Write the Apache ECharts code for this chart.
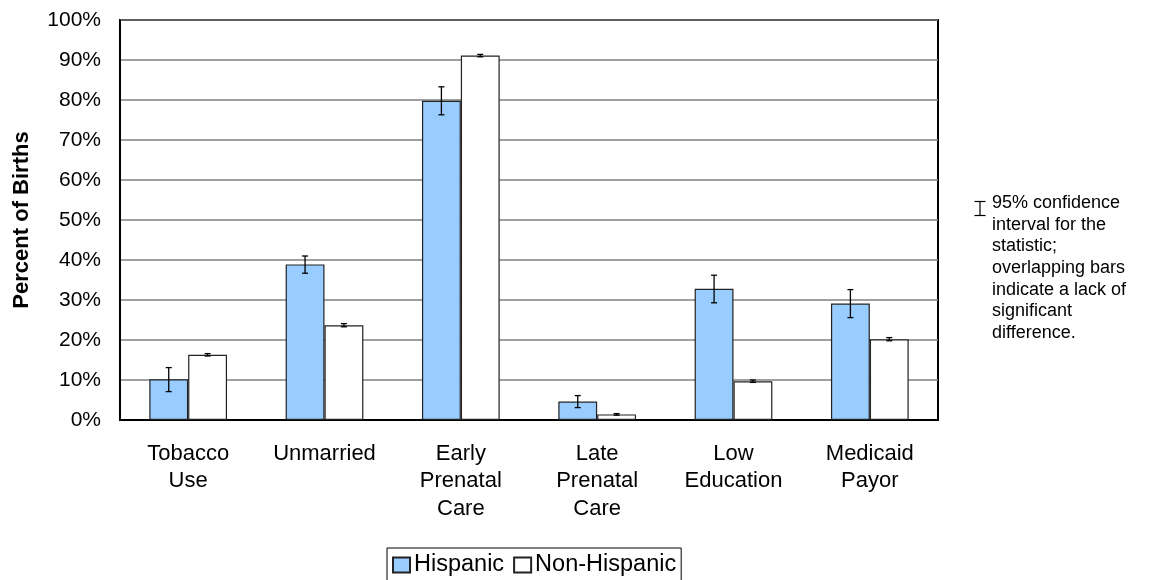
<!DOCTYPE html>
<html>
<head>
<meta charset="utf-8">
<script src="https://cdn.jsdelivr.net/npm/echarts@6/dist/echarts.min.js"></script>
<style>
  html, body { margin: 0; padding: 0; background: #fff; }
  #main { width: 1151px; height: 580px; }
</style>
</head>
<body>
<div id="main"></div>
<script>
var categories = ['Tobacco\nUse', 'Unmarried', 'Early\nPrenatal\nCare', 'Late\nPrenatal\nCare', 'Low\nEducation', 'Medicaid\nPayor'];
var hispanic = [10.2, 38.9, 79.8, 4.6, 32.8, 29.1];
var hispanicLow = [7.1, 36.7, 76.3, 3.1, 29.3, 25.6];
var hispanicHigh = [13.1, 41.0, 83.3, 6.1, 36.2, 32.6];
var nonHispanic = [16.3, 23.7, 91.1, 1.4, 9.7, 20.2];
var nonHispanicLow = [16.0, 23.3, 90.8, 1.2, 9.4, 19.8];
var nonHispanicHigh = [16.6, 24.1, 91.4, 1.6, 10.0, 20.6];

var gapRatio = 0.43;

function errorData(low, high) {
	var res = [];
	for (var i = 0; i < low.length; i++) {
		res.push([i, low[i], high[i]]);
	}
	return res;
}

// whisker drawn on the centre of the left (-1) or right (+1) bar
function errorRender(side) {
	return function(params, api) {
		var idx = api.value(0);
		var lo = api.coord([idx, api.value(1)]);
		var hi = api.coord([idx, api.value(2)]);
		var band = api.size([1, 0])[0];
		var bw = band * (1 - gapRatio) / 2;
		var x = lo[0] + side * bw / 2;
		var cap = 3;
		var style = { stroke: '#000', lineWidth: 1.3 };
		return {
			type: 'group',
			children: [
				{ type: 'line', shape: { x1: x, y1: hi[1], x2: x, y2: lo[1] }, style: style },
				{ type: 'line', shape: { x1: x - cap, y1: hi[1], x2: x + cap, y2: hi[1] }, style: style },
				{ type: 'line', shape: { x1: x - cap, y1: lo[1], x2: x + cap, y2: lo[1] }, style: style }
			]
		};
	};
}

var chart = echarts.init(document.getElementById('main'));

var noteLines = ['95% confidence', 'interval for the', 'statistic;', 'overlapping bars', 'indicate a lack of', 'significant', 'difference.'];
var fontName = 'Liberation Sans, Arial, sans-serif';

var option = {
	animation: false,
	textStyle: { fontFamily: fontName },
	grid: {
		left: 120, right: 213, top: 20, bottom: 160,
		show: true, borderColor: '#000', borderWidth: 2
	},
	legend: {
		top: 548,
		left: 387,
		data: ['Hispanic', 'Non-Hispanic'],
		icon: 'rect',
		itemWidth: 17, itemHeight: 15,
		itemGap: 9,
		padding: [5, 5, 10, 5],
		borderColor: '#000', borderWidth: 1,
		textStyle: { fontSize: 23.5, color: '#000', padding: [0, 0, 0, -1] }
	},
	xAxis: {
		type: 'category',
		data: categories,
		axisTick: { show: false },
		axisLine: { lineStyle: { color: '#000', width: 2 } },
		axisLabel: { fontSize: 22, color: '#000', lineHeight: 27.5, margin: 20 }
	},
	yAxis: {
		type: 'value',
		min: 0, max: 100, interval: 10,
		name: 'Percent of Births',
		nameLocation: 'middle',
		nameGap: 87,
		nameTextStyle: { fontSize: 22, fontWeight: 'bold', color: '#000' },
		axisLine: { show: true, lineStyle: { color: '#000', width: 1 } },
		axisTick: { show: false },
		axisLabel: { fontSize: 21, color: '#000', formatter: '{value}%', margin: 19 },
		splitLine: { lineStyle: { color: '#808080', width: 1.5 } }
	},
	series: [
		{
			name: 'Hispanic',
			type: 'bar',
			data: hispanic,
			barGap: '0%',
			barCategoryGap: '43%',
			itemStyle: { color: '#99ccff', borderColor: '#222', borderWidth: 1.2 }
		},
		{
			name: 'Non-Hispanic',
			type: 'bar',
			data: nonHispanic,
			itemStyle: { color: '#ffffff', borderColor: '#222', borderWidth: 1.2 }
		},
		{
			type: 'custom',
			renderItem: errorRender(-1),
			data: errorData(hispanicLow, hispanicHigh),
			encode: { x: 0, y: [1, 2] },
			z: 10
		},
		{
			type: 'custom',
			renderItem: errorRender(1),
			data: errorData(nonHispanicLow, nonHispanicHigh),
			encode: { x: 0, y: [1, 2] },
			z: 10
		}
	],
	graphic: [
		{
			type: 'group',
			left: 972, top: 199,
			children: [
				{ type: 'line', shape: { x1: 5.5, y1: 0, x2: 5.5, y2: 14 }, style: { stroke: '#000', lineWidth: 1.2 } },
				{ type: 'line', shape: { x1: 0, y1: 0, x2: 11, y2: 0 }, style: { stroke: '#000', lineWidth: 1.2 } },
				{ type: 'line', shape: { x1: 0, y1: 14, x2: 11, y2: 14 }, style: { stroke: '#000', lineWidth: 1.2 } }
			]
		},
		{
			type: 'text',
			left: 992, top: 192,
			style: {
				text: noteLines.join('\n'),
				fontSize: 18,
				lineHeight: 21.7,
				fill: '#000',
				fontFamily: fontName
			}
		}
	]
};

chart.setOption(option, true);
</script>
</body>
</html>
